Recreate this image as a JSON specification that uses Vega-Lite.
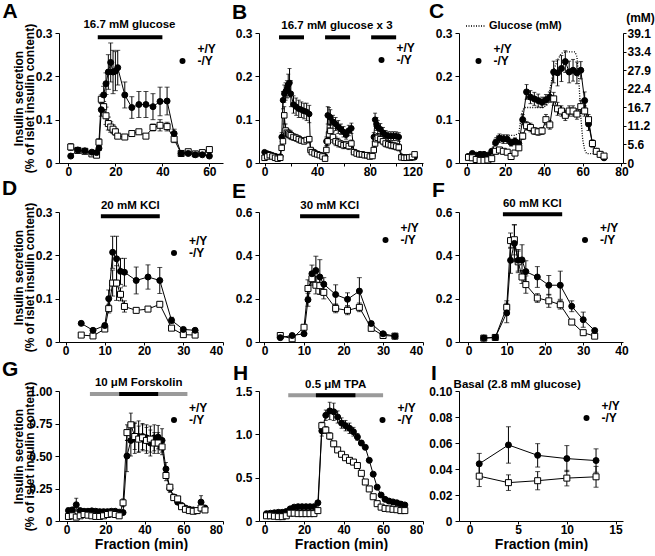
{
"$schema":"https://vega.github.io/schema/vega-lite/v6.json",
"padding":{"left":2,"top":1,"right":0,"bottom":0},
"config":{
 "font":"Liberation Sans",
 "view":{"stroke":null},
 "axis":{"grid":false,"domainColor":"black","tickColor":"black","labelColor":"black","labelFont":"Liberation Sans","labelFontSize":12,"labelFontWeight":"bold","titleFont":"Liberation Sans","titleFontWeight":"bold","titleColor":"black","tickSize":4,"labelPadding":3,"domainWidth":1,"tickWidth":1,"titleLimit":400},
 "axisX":{"labelPadding":0,"tickSize":3,"titleFontSize":14,"titlePadding":2},
 "legend":{"labelFont":"Liberation Sans","labelFontSize":12,"labelFontWeight":"bold","labelColor":"black","padding":0,"symbolSize":36,"labelOffset":9,"symbolStrokeColor":"black","symbolStrokeWidth":1},
 "text":{"font":"Liberation Sans","fontSize":11.5,"fontWeight":"bold","color":"black","baseline":"middle"}
},
"datasets":{
"A":[
{"g":"+/Y","x":1,"y":0.037,"e":0.008},{"g":"+/Y","x":4,"y":0.029,"e":0.004},{"g":"+/Y","x":7,"y":0.027,"e":0.003},{"g":"+/Y","x":10,"y":0.021,"e":0.003},{"g":"+/Y","x":12,"y":0.018,"e":0.003},{"g":"+/Y","x":13,"y":0.048,"e":0.008},{"g":"+/Y","x":14,"y":0.147,"e":0.01},{"g":"+/Y","x":15,"y":0.13,"e":0.012},{"g":"+/Y","x":16,"y":0.109,"e":0.02},{"g":"+/Y","x":17,"y":0.091,"e":0.015},{"g":"+/Y","x":18,"y":0.083,"e":0.012},{"g":"+/Y","x":19,"y":0.078,"e":0.01},{"g":"+/Y","x":20,"y":0.072,"e":0.008},{"g":"+/Y","x":21,"y":0.062,"e":0.005},{"g":"+/Y","x":24,"y":0.06,"e":0.004},{"g":"+/Y","x":27,"y":0.068,"e":0.005},{"g":"+/Y","x":30,"y":0.072,"e":0.005},{"g":"+/Y","x":33,"y":0.062,"e":0.004},{"g":"+/Y","x":36,"y":0.082,"e":0.008},{"g":"+/Y","x":39,"y":0.087,"e":0.013},{"g":"+/Y","x":42,"y":0.084,"e":0.01},{"g":"+/Y","x":45,"y":0.055,"e":0.008},{"g":"+/Y","x":48,"y":0.022,"e":0.003},{"g":"+/Y","x":51,"y":0.026,"e":0.003},{"g":"+/Y","x":54,"y":0.021,"e":0.003},{"g":"+/Y","x":57,"y":0.024,"e":0.003},{"g":"+/Y","x":60,"y":0.031,"e":0.003},
{"g":"-/Y","x":1,"y":0.016,"e":0.003},{"g":"-/Y","x":4,"y":0.03,"e":0.004},{"g":"-/Y","x":7,"y":0.028,"e":0.004},{"g":"-/Y","x":10,"y":0.025,"e":0.004},{"g":"-/Y","x":12,"y":0.024,"e":0.004},{"g":"-/Y","x":13,"y":0.034,"e":0.005},{"g":"-/Y","x":14,"y":0.123,"e":0.015},{"g":"-/Y","x":15,"y":0.157,"e":0.02},{"g":"-/Y","x":16,"y":0.183,"e":0.025},{"g":"-/Y","x":17,"y":0.21,"e":0.04},{"g":"-/Y","x":18,"y":0.232,"e":0.045},{"g":"-/Y","x":19,"y":0.21,"e":0.05},{"g":"-/Y","x":20,"y":0.212,"e":0.045},{"g":"-/Y","x":21,"y":0.22,"e":0.04},{"g":"-/Y","x":24,"y":0.157,"e":0.03},{"g":"-/Y","x":27,"y":0.128,"e":0.025},{"g":"-/Y","x":30,"y":0.135,"e":0.03},{"g":"-/Y","x":33,"y":0.135,"e":0.03},{"g":"-/Y","x":36,"y":0.13,"e":0.03},{"g":"-/Y","x":39,"y":0.142,"e":0.033},{"g":"-/Y","x":42,"y":0.143,"e":0.032},{"g":"-/Y","x":45,"y":0.068,"e":0.01},{"g":"-/Y","x":48,"y":0.022,"e":0.003},{"g":"-/Y","x":51,"y":0.022,"e":0.003},{"g":"-/Y","x":54,"y":0.019,"e":0.003},{"g":"-/Y","x":57,"y":0.019,"e":0.003},{"g":"-/Y","x":60,"y":0.016,"e":0.003}
],
"B":[
{"g":"-/Y","x":0,"y":0.025,"e":0.004},{"g":"-/Y","x":2,"y":0.022,"e":0.004},{"g":"-/Y","x":4,"y":0.02,"e":0.004},{"g":"-/Y","x":6,"y":0.018,"e":0.004},{"g":"-/Y","x":8,"y":0.016,"e":0.004},{"g":"-/Y","x":10,"y":0.014,"e":0.004},{"g":"-/Y","x":12,"y":0.015,"e":0.004},{"g":"-/Y","x":13,"y":0.06,"e":0.01},{"g":"-/Y","x":14,"y":0.145,"e":0.02},{"g":"-/Y","x":15,"y":0.16,"e":0.02},{"g":"-/Y","x":16,"y":0.165,"e":0.02},{"g":"-/Y","x":17,"y":0.17,"e":0.02},{"g":"-/Y","x":18,"y":0.18,"e":0.025},{"g":"-/Y","x":19,"y":0.185,"e":0.033},{"g":"-/Y","x":20,"y":0.16,"e":0.03},{"g":"-/Y","x":22,"y":0.135,"e":0.02},{"g":"-/Y","x":24,"y":0.13,"e":0.02},{"g":"-/Y","x":26,"y":0.125,"e":0.02},{"g":"-/Y","x":28,"y":0.123,"e":0.018},{"g":"-/Y","x":30,"y":0.12,"e":0.018},{"g":"-/Y","x":32,"y":0.118,"e":0.02},{"g":"-/Y","x":34,"y":0.113,"e":0.02},{"g":"-/Y","x":35,"y":0.03,"e":0.005},{"g":"-/Y","x":36,"y":0.028,"e":0.004},{"g":"-/Y","x":38,"y":0.025,"e":0.004},{"g":"-/Y","x":40,"y":0.02,"e":0.004},{"g":"-/Y","x":42,"y":0.018,"e":0.004},{"g":"-/Y","x":44,"y":0.016,"e":0.004},{"g":"-/Y","x":46,"y":0.015,"e":0.004},{"g":"-/Y","x":47,"y":0.05,"e":0.01},{"g":"-/Y","x":48,"y":0.11,"e":0.02},{"g":"-/Y","x":49,"y":0.108,"e":0.02},{"g":"-/Y","x":50,"y":0.105,"e":0.018},{"g":"-/Y","x":52,"y":0.095,"e":0.015},{"g":"-/Y","x":54,"y":0.09,"e":0.015},{"g":"-/Y","x":56,"y":0.083,"e":0.015},{"g":"-/Y","x":58,"y":0.078,"e":0.012},{"g":"-/Y","x":60,"y":0.072,"e":0.012},{"g":"-/Y","x":62,"y":0.065,"e":0.01},{"g":"-/Y","x":64,"y":0.075,"e":0.012},{"g":"-/Y","x":66,"y":0.08,"e":0.012},{"g":"-/Y","x":68,"y":0.025,"e":0.004},{"g":"-/Y","x":70,"y":0.022,"e":0.004},{"g":"-/Y","x":72,"y":0.02,"e":0.004},{"g":"-/Y","x":74,"y":0.02,"e":0.004},{"g":"-/Y","x":76,"y":0.018,"e":0.004},{"g":"-/Y","x":78,"y":0.018,"e":0.004},{"g":"-/Y","x":80,"y":0.017,"e":0.004},{"g":"-/Y","x":82,"y":0.017,"e":0.004},{"g":"-/Y","x":83,"y":0.06,"e":0.01},{"g":"-/Y","x":84,"y":0.1,"e":0.015},{"g":"-/Y","x":85,"y":0.09,"e":0.015},{"g":"-/Y","x":86,"y":0.083,"e":0.015},{"g":"-/Y","x":88,"y":0.078,"e":0.013},{"g":"-/Y","x":90,"y":0.07,"e":0.012},{"g":"-/Y","x":92,"y":0.065,"e":0.01},{"g":"-/Y","x":94,"y":0.062,"e":0.01},{"g":"-/Y","x":96,"y":0.062,"e":0.01},{"g":"-/Y","x":98,"y":0.062,"e":0.01},{"g":"-/Y","x":100,"y":0.062,"e":0.01},{"g":"-/Y","x":102,"y":0.06,"e":0.01},{"g":"-/Y","x":104,"y":0.015,"e":0.003},{"g":"-/Y","x":106,"y":0.013,"e":0.003},{"g":"-/Y","x":108,"y":0.013,"e":0.003},{"g":"-/Y","x":110,"y":0.012,"e":0.003},{"g":"-/Y","x":112,"y":0.012,"e":0.003},{"g":"-/Y","x":114,"y":0.013,"e":0.003},
{"g":"+/Y","x":0,"y":0.012,"e":0.003},{"g":"+/Y","x":2,"y":0.015,"e":0.003},{"g":"+/Y","x":4,"y":0.018,"e":0.003},{"g":"+/Y","x":6,"y":0.015,"e":0.003},{"g":"+/Y","x":8,"y":0.012,"e":0.003},{"g":"+/Y","x":10,"y":0.01,"e":0.003},{"g":"+/Y","x":12,"y":0.012,"e":0.003},{"g":"+/Y","x":13,"y":0.035,"e":0.006},{"g":"+/Y","x":14,"y":0.05,"e":0.01},{"g":"+/Y","x":15,"y":0.11,"e":0.02},{"g":"+/Y","x":16,"y":0.075,"e":0.015},{"g":"+/Y","x":17,"y":0.07,"e":0.01},{"g":"+/Y","x":18,"y":0.068,"e":0.01},{"g":"+/Y","x":19,"y":0.066,"e":0.01},{"g":"+/Y","x":20,"y":0.064,"e":0.01},{"g":"+/Y","x":22,"y":0.06,"e":0.008},{"g":"+/Y","x":24,"y":0.058,"e":0.008},{"g":"+/Y","x":26,"y":0.055,"e":0.008},{"g":"+/Y","x":28,"y":0.052,"e":0.006},{"g":"+/Y","x":30,"y":0.05,"e":0.006},{"g":"+/Y","x":32,"y":0.053,"e":0.006},{"g":"+/Y","x":34,"y":0.055,"e":0.006},{"g":"+/Y","x":35,"y":0.03,"e":0.004},{"g":"+/Y","x":36,"y":0.025,"e":0.004},{"g":"+/Y","x":38,"y":0.022,"e":0.004},{"g":"+/Y","x":40,"y":0.02,"e":0.004},{"g":"+/Y","x":42,"y":0.018,"e":0.004},{"g":"+/Y","x":44,"y":0.015,"e":0.004},{"g":"+/Y","x":46,"y":0.01,"e":0.003},{"g":"+/Y","x":47,"y":0.03,"e":0.005},{"g":"+/Y","x":48,"y":0.05,"e":0.01},{"g":"+/Y","x":49,"y":0.066,"e":0.015},{"g":"+/Y","x":50,"y":0.074,"e":0.015},{"g":"+/Y","x":52,"y":0.06,"e":0.012},{"g":"+/Y","x":54,"y":0.05,"e":0.01},{"g":"+/Y","x":56,"y":0.047,"e":0.01},{"g":"+/Y","x":58,"y":0.044,"e":0.008},{"g":"+/Y","x":60,"y":0.041,"e":0.008},{"g":"+/Y","x":62,"y":0.042,"e":0.008},{"g":"+/Y","x":64,"y":0.039,"e":0.008},{"g":"+/Y","x":66,"y":0.045,"e":0.008},{"g":"+/Y","x":68,"y":0.025,"e":0.004},{"g":"+/Y","x":70,"y":0.022,"e":0.004},{"g":"+/Y","x":72,"y":0.02,"e":0.004},{"g":"+/Y","x":74,"y":0.02,"e":0.004},{"g":"+/Y","x":76,"y":0.018,"e":0.004},{"g":"+/Y","x":78,"y":0.018,"e":0.004},{"g":"+/Y","x":80,"y":0.015,"e":0.004},{"g":"+/Y","x":82,"y":0.016,"e":0.004},{"g":"+/Y","x":83,"y":0.03,"e":0.005},{"g":"+/Y","x":84,"y":0.045,"e":0.01},{"g":"+/Y","x":85,"y":0.055,"e":0.01},{"g":"+/Y","x":86,"y":0.058,"e":0.01},{"g":"+/Y","x":88,"y":0.055,"e":0.008},{"g":"+/Y","x":90,"y":0.05,"e":0.008},{"g":"+/Y","x":92,"y":0.045,"e":0.008},{"g":"+/Y","x":94,"y":0.043,"e":0.008},{"g":"+/Y","x":96,"y":0.041,"e":0.008},{"g":"+/Y","x":98,"y":0.04,"e":0.008},{"g":"+/Y","x":100,"y":0.038,"e":0.008},{"g":"+/Y","x":102,"y":0.036,"e":0.008},{"g":"+/Y","x":104,"y":0.013,"e":0.003},{"g":"+/Y","x":106,"y":0.012,"e":0.003},{"g":"+/Y","x":108,"y":0.012,"e":0.003},{"g":"+/Y","x":110,"y":0.013,"e":0.003},{"g":"+/Y","x":112,"y":0.014,"e":0.003},{"g":"+/Y","x":114,"y":0.02,"e":0.003}
],
"C":[
{"g":"-/Y","x":1,"y":0.015,"e":0.004},{"g":"-/Y","x":3,"y":0.022,"e":0.004},{"g":"-/Y","x":5,"y":0.018,"e":0.004},{"g":"-/Y","x":7,"y":0.02,"e":0.004},{"g":"-/Y","x":9,"y":0.02,"e":0.004},{"g":"-/Y","x":11,"y":0.018,"e":0.004},{"g":"-/Y","x":13,"y":0.027,"e":0.005},{"g":"-/Y","x":15,"y":0.047,"e":0.008},{"g":"-/Y","x":17,"y":0.057,"e":0.01},{"g":"-/Y","x":19,"y":0.055,"e":0.01},{"g":"-/Y","x":21,"y":0.055,"e":0.01},{"g":"-/Y","x":23,"y":0.047,"e":0.008},{"g":"-/Y","x":25,"y":0.05,"e":0.008},{"g":"-/Y","x":27,"y":0.045,"e":0.008},{"g":"-/Y","x":29,"y":0.1,"e":0.012},{"g":"-/Y","x":31,"y":0.164,"e":0.017},{"g":"-/Y","x":33,"y":0.152,"e":0.015},{"g":"-/Y","x":35,"y":0.148,"e":0.015},{"g":"-/Y","x":37,"y":0.144,"e":0.015},{"g":"-/Y","x":39,"y":0.14,"e":0.012},{"g":"-/Y","x":41,"y":0.146,"e":0.012},{"g":"-/Y","x":43,"y":0.152,"e":0.012},{"g":"-/Y","x":45,"y":0.21,"e":0.025},{"g":"-/Y","x":47,"y":0.208,"e":0.03},{"g":"-/Y","x":49,"y":0.218,"e":0.03},{"g":"-/Y","x":51,"y":0.234,"e":0.025},{"g":"-/Y","x":53,"y":0.21,"e":0.025},{"g":"-/Y","x":55,"y":0.214,"e":0.025},{"g":"-/Y","x":57,"y":0.208,"e":0.025},{"g":"-/Y","x":59,"y":0.214,"e":0.02},{"g":"-/Y","x":61,"y":0.144,"e":0.02},{"g":"-/Y","x":63,"y":0.09,"e":0.015},{"g":"-/Y","x":65,"y":0.045,"e":0.008},{"g":"-/Y","x":67,"y":0.027,"e":0.005},{"g":"-/Y","x":69,"y":0.02,"e":0.004},{"g":"-/Y","x":71,"y":0.012,"e":0.003},
{"g":"+/Y","x":1,"y":0.013,"e":0.003},{"g":"+/Y","x":3,"y":0.012,"e":0.003},{"g":"+/Y","x":5,"y":0.008,"e":0.003},{"g":"+/Y","x":7,"y":0.006,"e":0.003},{"g":"+/Y","x":9,"y":0.006,"e":0.003},{"g":"+/Y","x":11,"y":0.007,"e":0.003},{"g":"+/Y","x":13,"y":0.01,"e":0.003},{"g":"+/Y","x":15,"y":0.027,"e":0.006},{"g":"+/Y","x":17,"y":0.03,"e":0.006},{"g":"+/Y","x":19,"y":0.027,"e":0.006},{"g":"+/Y","x":21,"y":0.025,"e":0.006},{"g":"+/Y","x":23,"y":0.015,"e":0.005},{"g":"+/Y","x":25,"y":0.023,"e":0.005},{"g":"+/Y","x":27,"y":0.035,"e":0.006},{"g":"+/Y","x":29,"y":0.062,"e":0.008},{"g":"+/Y","x":31,"y":0.086,"e":0.01},{"g":"+/Y","x":33,"y":0.082,"e":0.01},{"g":"+/Y","x":35,"y":0.074,"e":0.008},{"g":"+/Y","x":37,"y":0.072,"e":0.008},{"g":"+/Y","x":39,"y":0.074,"e":0.008},{"g":"+/Y","x":41,"y":0.1,"e":0.012},{"g":"+/Y","x":43,"y":0.088,"e":0.01},{"g":"+/Y","x":45,"y":0.148,"e":0.015},{"g":"+/Y","x":47,"y":0.125,"e":0.015},{"g":"+/Y","x":49,"y":0.12,"e":0.012},{"g":"+/Y","x":51,"y":0.11,"e":0.012},{"g":"+/Y","x":53,"y":0.12,"e":0.012},{"g":"+/Y","x":55,"y":0.12,"e":0.012},{"g":"+/Y","x":57,"y":0.113,"e":0.012},{"g":"+/Y","x":59,"y":0.13,"e":0.015},{"g":"+/Y","x":61,"y":0.12,"e":0.012},{"g":"+/Y","x":63,"y":0.1,"e":0.012},{"g":"+/Y","x":65,"y":0.045,"e":0.008},{"g":"+/Y","x":67,"y":0.027,"e":0.005},{"g":"+/Y","x":69,"y":0.02,"e":0.004},{"g":"+/Y","x":71,"y":0.016,"e":0.003}
],
"D":[
{"g":"+/Y","x":4,"y":0.016,"e":0.003},{"g":"+/Y","x":7,"y":0.014,"e":0.003},{"g":"+/Y","x":10,"y":0.03,"e":0.004},{"g":"+/Y","x":11,"y":0.077,"e":0.01},{"g":"+/Y","x":12,"y":0.136,"e":0.03},{"g":"+/Y","x":13,"y":0.136,"e":0.04},{"g":"+/Y","x":14,"y":0.11,"e":0.015},{"g":"+/Y","x":15,"y":0.082,"e":0.013},{"g":"+/Y","x":18,"y":0.073,"e":0.005},{"g":"+/Y","x":21,"y":0.076,"e":0.004},{"g":"+/Y","x":24,"y":0.087,"e":0.005},{"g":"+/Y","x":27,"y":0.032,"e":0.004},{"g":"+/Y","x":30,"y":0.017,"e":0.003},{"g":"+/Y","x":33,"y":0.016,"e":0.003},
{"g":"-/Y","x":4,"y":0.043,"e":0.003},{"g":"-/Y","x":7,"y":0.027,"e":0.003},{"g":"-/Y","x":10,"y":0.038,"e":0.005},{"g":"-/Y","x":11,"y":0.1,"e":0.02},{"g":"-/Y","x":12,"y":0.207,"e":0.037},{"g":"-/Y","x":13,"y":0.192,"e":0.052},{"g":"-/Y","x":14,"y":0.163,"e":0.03},{"g":"-/Y","x":15,"y":0.161,"e":0.032},{"g":"-/Y","x":18,"y":0.142,"e":0.031},{"g":"-/Y","x":21,"y":0.15,"e":0.028},{"g":"-/Y","x":24,"y":0.142,"e":0.03},{"g":"-/Y","x":27,"y":0.05,"e":0.007},{"g":"-/Y","x":30,"y":0.029,"e":0.004},{"g":"-/Y","x":33,"y":0.027,"e":0.003}
],
"E":[
{"g":"+/Y","x":4,"y":0.03,"e":0.003},{"g":"+/Y","x":7,"y":0.015,"e":0.003},{"g":"+/Y","x":10,"y":0.068,"e":0.005},{"g":"+/Y","x":11,"y":0.247,"e":0.04},{"g":"+/Y","x":12,"y":0.292,"e":0.03},{"g":"+/Y","x":13,"y":0.262,"e":0.04},{"g":"+/Y","x":14,"y":0.26,"e":0.04},{"g":"+/Y","x":15,"y":0.229,"e":0.03},{"g":"+/Y","x":18,"y":0.155,"e":0.02},{"g":"+/Y","x":21,"y":0.146,"e":0.02},{"g":"+/Y","x":24,"y":0.16,"e":0.02},{"g":"+/Y","x":27,"y":0.063,"e":0.008},{"g":"+/Y","x":30,"y":0.03,"e":0.004},{"g":"+/Y","x":33,"y":0.027,"e":0.003},
{"g":"-/Y","x":4,"y":0.02,"e":0.003},{"g":"-/Y","x":7,"y":0.03,"e":0.003},{"g":"-/Y","x":10,"y":0.038,"e":0.005},{"g":"-/Y","x":11,"y":0.195,"e":0.03},{"g":"-/Y","x":12,"y":0.315,"e":0.04},{"g":"-/Y","x":13,"y":0.33,"e":0.066},{"g":"-/Y","x":14,"y":0.3,"e":0.08},{"g":"-/Y","x":15,"y":0.267,"e":0.03},{"g":"-/Y","x":18,"y":0.219,"e":0.045},{"g":"-/Y","x":21,"y":0.197,"e":0.03},{"g":"-/Y","x":24,"y":0.235,"e":0.062},{"g":"-/Y","x":27,"y":0.085,"e":0.01},{"g":"-/Y","x":30,"y":0.038,"e":0.005},{"g":"-/Y","x":33,"y":0.027,"e":0.003}
],
"F":[
{"g":"+/Y","x":4,"y":0.018,"e":0.003},{"g":"+/Y","x":7,"y":0.021,"e":0.003},{"g":"+/Y","x":10,"y":0.16,"e":0.03},{"g":"+/Y","x":11,"y":0.468,"e":0.035},{"g":"+/Y","x":12,"y":0.472,"e":0.07},{"g":"+/Y","x":13,"y":0.37,"e":0.05},{"g":"+/Y","x":14,"y":0.3,"e":0.03},{"g":"+/Y","x":15,"y":0.265,"e":0.04},{"g":"+/Y","x":18,"y":0.203,"e":0.02},{"g":"+/Y","x":21,"y":0.19,"e":0.03},{"g":"+/Y","x":24,"y":0.172,"e":0.02},{"g":"+/Y","x":27,"y":0.092,"e":0.008},{"g":"+/Y","x":30,"y":0.043,"e":0.005},{"g":"+/Y","x":33,"y":0.027,"e":0.005},
{"g":"-/Y","x":4,"y":0.018,"e":0.003},{"g":"-/Y","x":7,"y":0.021,"e":0.003},{"g":"-/Y","x":10,"y":0.134,"e":0.045},{"g":"-/Y","x":11,"y":0.377,"e":0.06},{"g":"-/Y","x":12,"y":0.455,"e":0.085},{"g":"-/Y","x":13,"y":0.377,"e":0.05},{"g":"-/Y","x":14,"y":0.379,"e":0.07},{"g":"-/Y","x":15,"y":0.325,"e":0.05},{"g":"-/Y","x":18,"y":0.3,"e":0.048},{"g":"-/Y","x":21,"y":0.262,"e":0.045},{"g":"-/Y","x":24,"y":0.262,"e":0.065},{"g":"-/Y","x":27,"y":0.165,"e":0.025},{"g":"-/Y","x":30,"y":0.103,"e":0.035},{"g":"-/Y","x":33,"y":0.053,"e":0.008}
],
"G":[
{"g":"-/Y","x":1,"y":0.08,"e":0.02},{"g":"-/Y","x":3,"y":0.085,"e":0.02},{"g":"-/Y","x":5,"y":0.125,"e":0.05},{"g":"-/Y","x":7,"y":0.08,"e":0.015},{"g":"-/Y","x":9,"y":0.075,"e":0.015},{"g":"-/Y","x":11,"y":0.075,"e":0.015},{"g":"-/Y","x":13,"y":0.078,"e":0.015},{"g":"-/Y","x":15,"y":0.075,"e":0.015},{"g":"-/Y","x":17,"y":0.072,"e":0.01},{"g":"-/Y","x":19,"y":0.072,"e":0.01},{"g":"-/Y","x":21,"y":0.072,"e":0.01},{"g":"-/Y","x":23,"y":0.075,"e":0.01},{"g":"-/Y","x":25,"y":0.075,"e":0.01},{"g":"-/Y","x":27,"y":0.068,"e":0.01},{"g":"-/Y","x":29,"y":0.065,"e":0.01},{"g":"-/Y","x":31,"y":0.5,"e":0.12},{"g":"-/Y","x":33,"y":0.62,"e":0.12},{"g":"-/Y","x":35,"y":0.64,"e":0.12},{"g":"-/Y","x":37,"y":0.65,"e":0.12},{"g":"-/Y","x":39,"y":0.65,"e":0.1},{"g":"-/Y","x":41,"y":0.64,"e":0.1},{"g":"-/Y","x":43,"y":0.6,"e":0.1},{"g":"-/Y","x":45,"y":0.64,"e":0.1},{"g":"-/Y","x":47,"y":0.645,"e":0.09},{"g":"-/Y","x":49,"y":0.62,"e":0.09},{"g":"-/Y","x":51,"y":0.4,"e":0.05},{"g":"-/Y","x":53,"y":0.25,"e":0.03},{"g":"-/Y","x":55,"y":0.185,"e":0.02},{"g":"-/Y","x":57,"y":0.145,"e":0.015},{"g":"-/Y","x":59,"y":0.12,"e":0.01},{"g":"-/Y","x":61,"y":0.1,"e":0.01},{"g":"-/Y","x":63,"y":0.09,"e":0.01},{"g":"-/Y","x":65,"y":0.085,"e":0.01},{"g":"-/Y","x":67,"y":0.08,"e":0.01},{"g":"-/Y","x":69,"y":0.145,"e":0.05},{"g":"-/Y","x":71,"y":0.1,"e":0.02},
{"g":"+/Y","x":1,"y":0.035,"e":0.01},{"g":"+/Y","x":3,"y":0.04,"e":0.01},{"g":"+/Y","x":5,"y":0.03,"e":0.01},{"g":"+/Y","x":7,"y":0.04,"e":0.01},{"g":"+/Y","x":9,"y":0.05,"e":0.01},{"g":"+/Y","x":11,"y":0.045,"e":0.01},{"g":"+/Y","x":13,"y":0.04,"e":0.01},{"g":"+/Y","x":15,"y":0.035,"e":0.01},{"g":"+/Y","x":17,"y":0.035,"e":0.01},{"g":"+/Y","x":19,"y":0.04,"e":0.01},{"g":"+/Y","x":21,"y":0.05,"e":0.01},{"g":"+/Y","x":23,"y":0.055,"e":0.01},{"g":"+/Y","x":25,"y":0.05,"e":0.01},{"g":"+/Y","x":27,"y":0.04,"e":0.01},{"g":"+/Y","x":29,"y":0.14,"e":0.03},{"g":"+/Y","x":31,"y":0.68,"e":0.06},{"g":"+/Y","x":33,"y":0.74,"e":0.09},{"g":"+/Y","x":35,"y":0.65,"e":0.1},{"g":"+/Y","x":37,"y":0.63,"e":0.1},{"g":"+/Y","x":39,"y":0.64,"e":0.1},{"g":"+/Y","x":41,"y":0.62,"e":0.1},{"g":"+/Y","x":43,"y":0.63,"e":0.1},{"g":"+/Y","x":45,"y":0.6,"e":0.08},{"g":"+/Y","x":47,"y":0.6,"e":0.08},{"g":"+/Y","x":49,"y":0.57,"e":0.06},{"g":"+/Y","x":51,"y":0.35,"e":0.04},{"g":"+/Y","x":53,"y":0.26,"e":0.02},{"g":"+/Y","x":55,"y":0.18,"e":0.02},{"g":"+/Y","x":57,"y":0.17,"e":0.02},{"g":"+/Y","x":59,"y":0.11,"e":0.01},{"g":"+/Y","x":61,"y":0.09,"e":0.01},{"g":"+/Y","x":63,"y":0.08,"e":0.01},{"g":"+/Y","x":65,"y":0.075,"e":0.01},{"g":"+/Y","x":67,"y":0.08,"e":0.01},{"g":"+/Y","x":69,"y":0.1,"e":0.02},{"g":"+/Y","x":71,"y":0.085,"e":0.01}
],
"H":[
{"g":"-/Y","x":1,"y":0.085,"e":0.01},{"g":"-/Y","x":3,"y":0.09,"e":0.01},{"g":"-/Y","x":5,"y":0.095,"e":0.01},{"g":"-/Y","x":7,"y":0.1,"e":0.01},{"g":"-/Y","x":9,"y":0.1,"e":0.01},{"g":"-/Y","x":11,"y":0.11,"e":0.01},{"g":"-/Y","x":13,"y":0.14,"e":0.01},{"g":"-/Y","x":15,"y":0.16,"e":0.01},{"g":"-/Y","x":17,"y":0.165,"e":0.01},{"g":"-/Y","x":19,"y":0.165,"e":0.01},{"g":"-/Y","x":21,"y":0.165,"e":0.01},{"g":"-/Y","x":23,"y":0.165,"e":0.01},{"g":"-/Y","x":25,"y":0.165,"e":0.01},{"g":"-/Y","x":27,"y":0.21,"e":0.02},{"g":"-/Y","x":29,"y":1.04,"e":0.06},{"g":"-/Y","x":31,"y":1.22,"e":0.06},{"g":"-/Y","x":33,"y":1.27,"e":0.1},{"g":"-/Y","x":35,"y":1.26,"e":0.1},{"g":"-/Y","x":37,"y":1.2,"e":0.07},{"g":"-/Y","x":39,"y":1.13,"e":0.06},{"g":"-/Y","x":41,"y":1.1,"e":0.06},{"g":"-/Y","x":43,"y":1.07,"e":0.06},{"g":"-/Y","x":45,"y":1.03,"e":0.05},{"g":"-/Y","x":47,"y":0.97,"e":0.04},{"g":"-/Y","x":49,"y":0.9,"e":0.03},{"g":"-/Y","x":51,"y":0.85,"e":0.02},{"g":"-/Y","x":53,"y":0.7,"e":0.02},{"g":"-/Y","x":55,"y":0.54,"e":0.02},{"g":"-/Y","x":57,"y":0.39,"e":0.02},{"g":"-/Y","x":59,"y":0.3,"e":0.01},{"g":"-/Y","x":61,"y":0.25,"e":0.01},{"g":"-/Y","x":63,"y":0.23,"e":0.01},{"g":"-/Y","x":65,"y":0.22,"e":0.01},{"g":"-/Y","x":67,"y":0.21,"e":0.01},{"g":"-/Y","x":69,"y":0.195,"e":0.01},{"g":"-/Y","x":71,"y":0.185,"e":0.01},
{"g":"+/Y","x":1,"y":0.06,"e":0.01},{"g":"+/Y","x":3,"y":0.06,"e":0.01},{"g":"+/Y","x":5,"y":0.055,"e":0.01},{"g":"+/Y","x":7,"y":0.05,"e":0.01},{"g":"+/Y","x":9,"y":0.05,"e":0.01},{"g":"+/Y","x":11,"y":0.06,"e":0.01},{"g":"+/Y","x":13,"y":0.09,"e":0.01},{"g":"+/Y","x":15,"y":0.09,"e":0.01},{"g":"+/Y","x":17,"y":0.085,"e":0.01},{"g":"+/Y","x":19,"y":0.085,"e":0.01},{"g":"+/Y","x":21,"y":0.085,"e":0.01},{"g":"+/Y","x":23,"y":0.085,"e":0.01},{"g":"+/Y","x":25,"y":0.085,"e":0.01},{"g":"+/Y","x":27,"y":0.12,"e":0.01},{"g":"+/Y","x":29,"y":1.1,"e":0.04},{"g":"+/Y","x":31,"y":1.05,"e":0.04},{"g":"+/Y","x":33,"y":0.98,"e":0.04},{"g":"+/Y","x":35,"y":0.89,"e":0.03},{"g":"+/Y","x":37,"y":0.82,"e":0.03},{"g":"+/Y","x":39,"y":0.77,"e":0.03},{"g":"+/Y","x":41,"y":0.73,"e":0.03},{"g":"+/Y","x":43,"y":0.7,"e":0.03},{"g":"+/Y","x":45,"y":0.68,"e":0.03},{"g":"+/Y","x":47,"y":0.64,"e":0.03},{"g":"+/Y","x":49,"y":0.55,"e":0.02},{"g":"+/Y","x":51,"y":0.45,"e":0.02},{"g":"+/Y","x":53,"y":0.37,"e":0.02},{"g":"+/Y","x":55,"y":0.28,"e":0.02},{"g":"+/Y","x":57,"y":0.2,"e":0.01},{"g":"+/Y","x":59,"y":0.16,"e":0.01},{"g":"+/Y","x":61,"y":0.145,"e":0.01},{"g":"+/Y","x":63,"y":0.14,"e":0.01},{"g":"+/Y","x":65,"y":0.135,"e":0.01},{"g":"+/Y","x":67,"y":0.13,"e":0.01},{"g":"+/Y","x":69,"y":0.12,"e":0.01},{"g":"+/Y","x":71,"y":0.12,"e":0.01}
],
"I":[
{"g":"+/Y","x":1,"y":0.0345,"e":0.008},{"g":"+/Y","x":4,"y":0.0295,"e":0.006},{"g":"+/Y","x":7,"y":0.031,"e":0.007},{"g":"+/Y","x":10,"y":0.033,"e":0.006},{"g":"+/Y","x":13,"y":0.034,"e":0.008},
{"g":"-/Y","x":1,"y":0.044,"e":0.008},{"g":"-/Y","x":4,"y":0.0585,"e":0.014},{"g":"-/Y","x":7,"y":0.0505,"e":0.009},{"g":"-/Y","x":10,"y":0.048,"e":0.01},{"g":"-/Y","x":13,"y":0.0465,"e":0.009}
]
},
"columns":3,
"spacing":{"row":49,"column":36},
"bounds":"flush",
"align":"all",
"resolve":{"scale":{"x":"independent","y":"independent","shape":"independent","fill":"independent","strokeDash":"independent"},"legend":{"shape":"independent","fill":"independent","strokeDash":"independent"}},
"concat":[
{"width":164,"height":130,"data":{"name":"A"},
 "encoding":{"x":{"field":"x","type":"quantitative","scale":{"domain":[-4,65.8],"nice":false,"zero":false},"axis":{"values":[0,20,40,60],"title":null}},
  "y":{"field":"y","type":"quantitative","scale":{"domain":[0,0.3],"nice":false},"axis":{"values":[0,0.1,0.2,0.3],"labelExpr":"datum.value === 0 ? '0' : format(datum.value, '.1f')","title":["Insulin secretion","(% of islet insulin content)"],"titleFontSize":12,"titleFontWeight":"bold","titleLineHeight":11,"titleX":-34,"titleY":65}}},
 "layer":[
  {"data":{"values":[{"x":-4,"y":0.3,"t":"A"}]},"mark":{"type":"text","fontSize":21,"align":"left","baseline":"alphabetic","dx":-56.5,"dy":-15},"encoding":{"text":{"field":"t"}}},
  {"data":{"values":[{"x":12.5,"x2":40,"y":0.29}]},"mark":{"type":"rule","strokeWidth":4,"color":"black"},"encoding":{"x2":{"field":"x2"}}},
  {"data":{"values":[{"x":26,"y":0.29,"t":"16.7 mM glucose"}]},"mark":{"type":"text","dy":-12},"encoding":{"text":{"field":"t"}}},
  {"transform":[{"filter":"datum.e > 0"}],"mark":{"type":"errorbar","color":"black","ticks":{"size":5}},"encoding":{"yError":{"field":"e"}}},
  {"mark":{"type":"line","color":"black","strokeWidth":1},"encoding":{"detail":{"field":"g"}}},
  {"mark":{"type":"point","size":36,"stroke":"black","strokeWidth":1,"opacity":1},"encoding":{"shape":{"field":"g","type":"nominal","scale":{"domain":["+/Y","-/Y"],"range":["square","circle"]},"legend":{"title":null,"orient":"none","legendX":117.5,"legendY":10,"rowPadding":-2,"encode":{"symbols":{"fill":{"value":{"signal":"datum.value === '+/Y' ? 'white' : 'black'"}},"stroke":{"value":"black"},"strokeWidth":{"value":1},"opacity":{"value":1}}}}},"fill":{"field":"g","type":"nominal","scale":{"domain":["+/Y","-/Y"],"range":["white","black"]},"legend":null}}}
 ]},
{"width":164,"height":130,"data":{"name":"B"},
 "encoding":{"x":{"field":"x","type":"quantitative","scale":{"domain":[-4.2,120.4],"nice":false,"zero":false},"axis":{"values":[0,20,40,60,80,100,120],"title":null}},
  "y":{"field":"y","type":"quantitative","scale":{"domain":[0,0.3],"nice":false},"axis":{"values":[0,0.1,0.2,0.3],"labelExpr":"datum.value === 0 ? '0' : format(datum.value, '.1f')","title":null}}},
 "layer":[
  {"data":{"values":[{"x":-4.2,"y":0.3,"t":"B"}]},"mark":{"type":"text","fontSize":21,"align":"left","baseline":"alphabetic","dx":-27,"dy":-14},"encoding":{"text":{"field":"t"}}},
  {"data":{"values":[{"x":11,"x2":30,"y":0.29},{"x":46,"x2":65,"y":0.29},{"x":81,"x2":100,"y":0.29}]},"mark":{"type":"rule","strokeWidth":4,"color":"black"},"encoding":{"x2":{"field":"x2"}}},
  {"data":{"values":[{"x":55,"y":0.29,"t":"16.7 mM glucose x 3"}]},"mark":{"type":"text","dy":-11},"encoding":{"text":{"field":"t"}}},
  {"transform":[{"filter":"datum.e > 0"}],"mark":{"type":"errorbar","color":"black","ticks":{"size":4}},"encoding":{"yError":{"field":"e"}}},
  {"mark":{"type":"line","color":"black","strokeWidth":1},"encoding":{"detail":{"field":"g"}}},
  {"mark":{"type":"point","size":30,"stroke":"black","strokeWidth":1,"opacity":1},"encoding":{"shape":{"field":"g","type":"nominal","scale":{"domain":["+/Y","-/Y"],"range":["square","circle"]},"legend":{"title":null,"orient":"none","legendX":116.5,"legendY":9,"rowPadding":-2,"symbolSize":36,"encode":{"symbols":{"fill":{"value":{"signal":"datum.value === '+/Y' ? 'white' : 'black'"}},"stroke":{"value":"black"},"strokeWidth":{"value":1},"opacity":{"value":1}}}}},"fill":{"field":"g","type":"nominal","scale":{"domain":["+/Y","-/Y"],"range":["white","black"]},"legend":null}}}
 ]},
{"width":164,"height":130,"data":{"name":"C"},
 "resolve":{"scale":{"y":"independent"}},
 "encoding":{"x":{"field":"x","type":"quantitative","scale":{"domain":[-3.9,80.8],"nice":false,"zero":false},"axis":{"values":[0,20,40,60,80],"title":null}},
  "y":{"field":"y","type":"quantitative","scale":{"domain":[0,0.3],"nice":false},"axis":{"orient":"left","values":[0,0.1,0.2,0.3],"labelExpr":"datum.value === 0 ? '0' : format(datum.value, '.1f')","title":null}}},
 "layer":[
  {"data":{"values":[{"x":0,"gl":2.8},{"x":12,"gl":2.8},{"x":13,"gl":3.5},{"x":14,"gl":6.5},{"x":15,"gl":8},{"x":17,"gl":8.3},{"x":25,"gl":8.3},{"x":27,"gl":9},{"x":28,"gl":13},{"x":29,"gl":16},{"x":30,"gl":16.7},{"x":40,"gl":16.7},{"x":42,"gl":18},{"x":43,"gl":22},{"x":44,"gl":25},{"x":45,"gl":28},{"x":47,"gl":31},{"x":49,"gl":33},{"x":51,"gl":33.4},{"x":56,"gl":33.4},{"x":57,"gl":32},{"x":58,"gl":25},{"x":59,"gl":14},{"x":60,"gl":7},{"x":61,"gl":4},{"x":62,"gl":2.8},{"x":72,"gl":2.8}]},
   "mark":{"type":"line","color":"black","strokeWidth":1.3},
   "encoding":{"y":{"field":"gl","type":"quantitative","scale":{"domain":[0,39.1],"nice":false},"axis":{"orient":"right","values":[0,5.6,11.2,16.7,22.4,27.9,33.4,39.1],"labelExpr":"datum.value === 0 ? '0' : format(datum.value, '.1f')","title":"(mM)","titleAngle":0,"titleX":17,"titleY":-16,"titleAlign":"center","titleBaseline":"middle","titleFontSize":12,"tickSize":3,"labelPadding":1}},
    "strokeDash":{"datum":"Glucose (mM)","type":"nominal","scale":{"range":[[1,1.5]]},"legend":{"title":null,"orient":"none","legendX":6,"legendY":-18,"symbolType":"stroke","symbolSize":400,"symbolStrokeWidth":1.3,"labelOffset":2,"labelFontSize":11}}}},
  {"layer":[
   {"data":{"values":[{"x":-3.9,"y":0.3,"t":"C"}]},"mark":{"type":"text","fontSize":21,"align":"left","baseline":"alphabetic","dx":-30,"dy":-15},"encoding":{"text":{"field":"t"}}},
   {"transform":[{"filter":"datum.e > 0"}],"mark":{"type":"errorbar","color":"black","ticks":{"size":4}},"encoding":{"yError":{"field":"e"}}},
   {"mark":{"type":"line","color":"black","strokeWidth":1},"encoding":{"detail":{"field":"g"}}},
   {"mark":{"type":"point","size":36,"stroke":"black","strokeWidth":1,"opacity":1},"encoding":{"shape":{"field":"g","type":"nominal","scale":{"domain":["+/Y","-/Y"],"range":["square","circle"]},"legend":{"title":null,"orient":"none","legendX":13.5,"legendY":10,"rowPadding":-2,"encode":{"symbols":{"fill":{"value":{"signal":"datum.value === '+/Y' ? 'white' : 'black'"}},"stroke":{"value":"black"},"strokeWidth":{"value":1},"opacity":{"value":1}}}}},"fill":{"field":"g","type":"nominal","scale":{"domain":["+/Y","-/Y"],"range":["white","black"]},"legend":null}}}
  ]}
 ]},
{"width":164,"height":130,"data":{"name":"D"},
 "encoding":{"x":{"field":"x","type":"quantitative","scale":{"domain":[-1.66,40.1],"nice":false,"zero":false},"axis":{"values":[0,10,20,30,40],"title":null}},
  "y":{"field":"y","type":"quantitative","scale":{"domain":[0,0.3],"nice":false},"axis":{"values":[0,0.1,0.2,0.3],"labelExpr":"datum.value === 0 ? '0' : format(datum.value, '.1f')","title":["Insulin secretion","(% of islet insulin content)"],"titleFontSize":12,"titleFontWeight":"bold","titleLineHeight":11,"titleX":-34,"titleY":65}}},
 "layer":[
  {"data":{"values":[{"x":-1.66,"y":0.3,"t":"D"}]},"mark":{"type":"text","fontSize":21,"align":"left","baseline":"alphabetic","dx":-57,"dy":-17},"encoding":{"text":{"field":"t"}}},
  {"data":{"values":[{"x":9,"x2":24,"y":0.29}]},"mark":{"type":"rule","strokeWidth":4,"color":"black"},"encoding":{"x2":{"field":"x2"}}},
  {"data":{"values":[{"x":16.5,"y":0.29,"t":"20 mM KCl"}]},"mark":{"type":"text","dy":-10},"encoding":{"text":{"field":"t"}}},
  {"transform":[{"filter":"datum.e > 0"}],"mark":{"type":"errorbar","color":"black","ticks":{"size":5}},"encoding":{"yError":{"field":"e"}}},
  {"mark":{"type":"line","color":"black","strokeWidth":1},"encoding":{"detail":{"field":"g"}}},
  {"mark":{"type":"point","size":36,"stroke":"black","strokeWidth":1,"opacity":1},"encoding":{"shape":{"field":"g","type":"nominal","scale":{"domain":["+/Y","-/Y"],"range":["square","circle"]},"legend":{"title":null,"orient":"none","legendX":109,"legendY":23,"rowPadding":-2,"encode":{"symbols":{"fill":{"value":{"signal":"datum.value === '+/Y' ? 'white' : 'black'"}},"stroke":{"value":"black"},"strokeWidth":{"value":1},"opacity":{"value":1}}}}},"fill":{"field":"g","type":"nominal","scale":{"domain":["+/Y","-/Y"],"range":["white","black"]},"legend":null}}}
 ]},
{"width":164,"height":130,"data":{"name":"E"},
 "encoding":{"x":{"field":"x","type":"quantitative","scale":{"domain":[-1.39,40.1],"nice":false,"zero":false},"axis":{"values":[0,10,20,30,40],"title":null}},
  "y":{"field":"y","type":"quantitative","scale":{"domain":[0,0.6],"nice":false},"axis":{"values":[0,0.2,0.4,0.6],"labelExpr":"datum.value === 0 ? '0' : format(datum.value, '.1f')","title":null}}},
 "layer":[
  {"data":{"values":[{"x":-1.39,"y":0.6,"t":"E"}]},"mark":{"type":"text","fontSize":21,"align":"left","baseline":"alphabetic","dx":-27,"dy":-14},"encoding":{"text":{"field":"t"}}},
  {"data":{"values":[{"x":9,"x2":24,"y":0.58}]},"mark":{"type":"rule","strokeWidth":4,"color":"black"},"encoding":{"x2":{"field":"x2"}}},
  {"data":{"values":[{"x":16.5,"y":0.58,"t":"30 mM KCl"}]},"mark":{"type":"text","dy":-10},"encoding":{"text":{"field":"t"}}},
  {"transform":[{"filter":"datum.e > 0"}],"mark":{"type":"errorbar","color":"black","ticks":{"size":5}},"encoding":{"yError":{"field":"e"}}},
  {"mark":{"type":"line","color":"black","strokeWidth":1},"encoding":{"detail":{"field":"g"}}},
  {"mark":{"type":"point","size":36,"stroke":"black","strokeWidth":1,"opacity":1},"encoding":{"shape":{"field":"g","type":"nominal","scale":{"domain":["+/Y","-/Y"],"range":["square","circle"]},"legend":{"title":null,"orient":"none","legendX":120.5,"legendY":10,"rowPadding":-2,"encode":{"symbols":{"fill":{"value":{"signal":"datum.value === '+/Y' ? 'white' : 'black'"}},"stroke":{"value":"black"},"strokeWidth":{"value":1},"opacity":{"value":1}}}}},"fill":{"field":"g","type":"nominal","scale":{"domain":["+/Y","-/Y"],"range":["white","black"]},"legend":null}}}
 ]},
{"width":164,"height":130,"data":{"name":"F"},
 "encoding":{"x":{"field":"x","type":"quantitative","scale":{"domain":[-2.48,40.4],"nice":false,"zero":false},"axis":{"values":[0,10,20,30,40],"title":null}},
  "y":{"field":"y","type":"quantitative","scale":{"domain":[0,0.6],"nice":false},"axis":{"values":[0,0.2,0.4,0.6],"labelExpr":"datum.value === 0 ? '0' : format(datum.value, '.1f')","title":null}}},
 "layer":[
  {"data":{"values":[{"x":-2.48,"y":0.6,"t":"F"}]},"mark":{"type":"text","fontSize":21,"align":"left","baseline":"alphabetic","dx":-27,"dy":-15},"encoding":{"text":{"field":"t"}}},
  {"data":{"values":[{"x":9,"x2":24.5,"y":0.59}]},"mark":{"type":"rule","strokeWidth":4,"color":"black"},"encoding":{"x2":{"field":"x2"}}},
  {"data":{"values":[{"x":16.7,"y":0.59,"t":"60 mM KCl"}]},"mark":{"type":"text","dy":-10},"encoding":{"text":{"field":"t"}}},
  {"transform":[{"filter":"datum.e > 0"}],"mark":{"type":"errorbar","color":"black","ticks":{"size":5}},"encoding":{"yError":{"field":"e"}}},
  {"mark":{"type":"line","color":"black","strokeWidth":1},"encoding":{"detail":{"field":"g"}}},
  {"mark":{"type":"point","size":36,"stroke":"black","strokeWidth":1,"opacity":1},"encoding":{"shape":{"field":"g","type":"nominal","scale":{"domain":["+/Y","-/Y"],"range":["square","circle"]},"legend":{"title":null,"orient":"none","legendX":120,"legendY":10,"rowPadding":-2,"encode":{"symbols":{"fill":{"value":{"signal":"datum.value === '+/Y' ? 'white' : 'black'"}},"stroke":{"value":"black"},"strokeWidth":{"value":1},"opacity":{"value":1}}}}},"fill":{"field":"g","type":"nominal","scale":{"domain":["+/Y","-/Y"],"range":["white","black"]},"legend":null}}}
 ]},
{"width":164,"height":130,"data":{"name":"G"},
 "encoding":{"x":{"field":"x","type":"quantitative","scale":{"domain":[-3.85,80.25],"nice":false,"zero":false},"axis":{"values":[0,20,40,60,80],"title":"Fraction (min)"}},
  "y":{"field":"y","type":"quantitative","scale":{"domain":[0,1],"nice":false},"axis":{"values":[0,0.25,0.5,0.75,1],"labelExpr":"datum.value === 0 ? '0' : format(datum.value, '.2f')","title":["Insulin secretion","(% of islet insulin content)"],"titleFontSize":12,"titleFontWeight":"bold","titleLineHeight":11,"titleX":-34,"titleY":65}}},
 "layer":[
  {"data":{"values":[{"x":-3.85,"y":1,"t":"G"}]},"mark":{"type":"text","fontSize":21,"align":"left","baseline":"alphabetic","dx":-57,"dy":-15},"encoding":{"text":{"field":"t"}}},
  {"data":{"values":[{"x":12,"x2":62,"y":0.977}]},"mark":{"type":"rule","strokeWidth":4,"color":"#9a9a9a"},"encoding":{"x2":{"field":"x2"}}},
  {"data":{"values":[{"x":27,"x2":47,"y":0.977}]},"mark":{"type":"rule","strokeWidth":4,"color":"black"},"encoding":{"x2":{"field":"x2"}}},
  {"data":{"values":[{"x":37,"y":0.977,"t":"10 μM Forskolin"}]},"mark":{"type":"text","dy":-11},"encoding":{"text":{"field":"t"}}},
  {"transform":[{"filter":"datum.e > 0"}],"mark":{"type":"errorbar","color":"black","ticks":{"size":4}},"encoding":{"yError":{"field":"e"}}},
  {"mark":{"type":"line","color":"black","strokeWidth":1},"encoding":{"detail":{"field":"g"}}},
  {"mark":{"type":"point","size":36,"stroke":"black","strokeWidth":1,"opacity":1},"encoding":{"shape":{"field":"g","type":"nominal","scale":{"domain":["+/Y","-/Y"],"range":["square","circle"]},"legend":{"title":null,"orient":"none","legendX":109,"legendY":11,"rowPadding":-2,"encode":{"symbols":{"fill":{"value":{"signal":"datum.value === '+/Y' ? 'white' : 'black'"}},"stroke":{"value":"black"},"strokeWidth":{"value":1},"opacity":{"value":1}}}}},"fill":{"field":"g","type":"nominal","scale":{"domain":["+/Y","-/Y"],"range":["white","black"]},"legend":null}}}
 ]},
{"width":164,"height":130,"data":{"name":"H"},
 "encoding":{"x":{"field":"x","type":"quantitative","scale":{"domain":[-2.8,80.2],"nice":false,"zero":false},"axis":{"values":[0,20,40,60,80],"title":"Fraction (min)"}},
  "y":{"field":"y","type":"quantitative","scale":{"domain":[0,1.5],"nice":false},"axis":{"values":[0,0.5,1,1.5],"labelExpr":"datum.value === 0 ? '0' : format(datum.value, '.1f')","title":null}}},
 "layer":[
  {"data":{"values":[{"x":-2.8,"y":1.5,"t":"H"}]},"mark":{"type":"text","fontSize":21,"align":"left","baseline":"alphabetic","dx":-26,"dy":-11},"encoding":{"text":{"field":"t"}}},
  {"data":{"values":[{"x":12,"x2":60,"y":1.45}]},"mark":{"type":"rule","strokeWidth":4,"color":"#9a9a9a"},"encoding":{"x2":{"field":"x2"}}},
  {"data":{"values":[{"x":26,"x2":46,"y":1.45}]},"mark":{"type":"rule","strokeWidth":4,"color":"black"},"encoding":{"x2":{"field":"x2"}}},
  {"data":{"values":[{"x":36,"y":1.45,"t":"0.5 μM TPA"}]},"mark":{"type":"text","dy":-10},"encoding":{"text":{"field":"t"}}},
  {"transform":[{"filter":"datum.e > 0"}],"mark":{"type":"errorbar","color":"black","ticks":{"size":4}},"encoding":{"yError":{"field":"e"}}},
  {"mark":{"type":"line","color":"black","strokeWidth":1},"encoding":{"detail":{"field":"g"}}},
  {"mark":{"type":"point","size":36,"stroke":"black","strokeWidth":1,"opacity":1},"encoding":{"shape":{"field":"g","type":"nominal","scale":{"domain":["+/Y","-/Y"],"range":["square","circle"]},"legend":{"title":null,"orient":"none","legendX":117.5,"legendY":11,"rowPadding":-2,"encode":{"symbols":{"fill":{"value":{"signal":"datum.value === '+/Y' ? 'white' : 'black'"}},"stroke":{"value":"black"},"strokeWidth":{"value":1},"opacity":{"value":1}}}}},"fill":{"field":"g","type":"nominal","scale":{"domain":["+/Y","-/Y"],"range":["white","black"]},"legend":null}}}
 ]},
{"width":164,"height":130,"data":{"name":"I"},
 "encoding":{"x":{"field":"x","type":"quantitative","scale":{"domain":[-1.08,15.77],"nice":false,"zero":false},"axis":{"values":[0,5,10,15],"title":"Fraction (min)"}},
  "y":{"field":"y","type":"quantitative","scale":{"domain":[0,0.1],"nice":false},"axis":{"values":[0,0.02,0.04,0.06,0.08,0.1],"labelExpr":"datum.value === 0 ? '0' : format(datum.value, '.2f')","title":null}}},
 "layer":[
  {"data":{"values":[{"x":-1.08,"y":0.1,"t":"I"}]},"mark":{"type":"text","fontSize":21,"align":"left","baseline":"alphabetic","dx":-28,"dy":-11},"encoding":{"text":{"field":"t"}}},
  {"data":{"values":[{"x":4.9,"y":0.1,"t":"Basal (2.8 mM glucose)"}]},"mark":{"type":"text","dy":-6},"encoding":{"text":{"field":"t"}}},
  {"transform":[{"filter":"datum.e > 0"}],"mark":{"type":"errorbar","color":"black","ticks":{"size":5}},"encoding":{"yError":{"field":"e"}}},
  {"mark":{"type":"line","color":"black","strokeWidth":1},"encoding":{"detail":{"field":"g"}}},
  {"mark":{"type":"point","size":36,"stroke":"black","strokeWidth":1,"opacity":1},"encoding":{"shape":{"field":"g","type":"nominal","scale":{"domain":["+/Y","-/Y"],"range":["square","circle"]},"legend":{"title":null,"orient":"none","legendX":121.5,"legendY":9,"rowPadding":-2,"encode":{"symbols":{"fill":{"value":{"signal":"datum.value === '+/Y' ? 'white' : 'black'"}},"stroke":{"value":"black"},"strokeWidth":{"value":1},"opacity":{"value":1}}}}},"fill":{"field":"g","type":"nominal","scale":{"domain":["+/Y","-/Y"],"range":["white","black"]},"legend":null}}}
 ]}
]
}
